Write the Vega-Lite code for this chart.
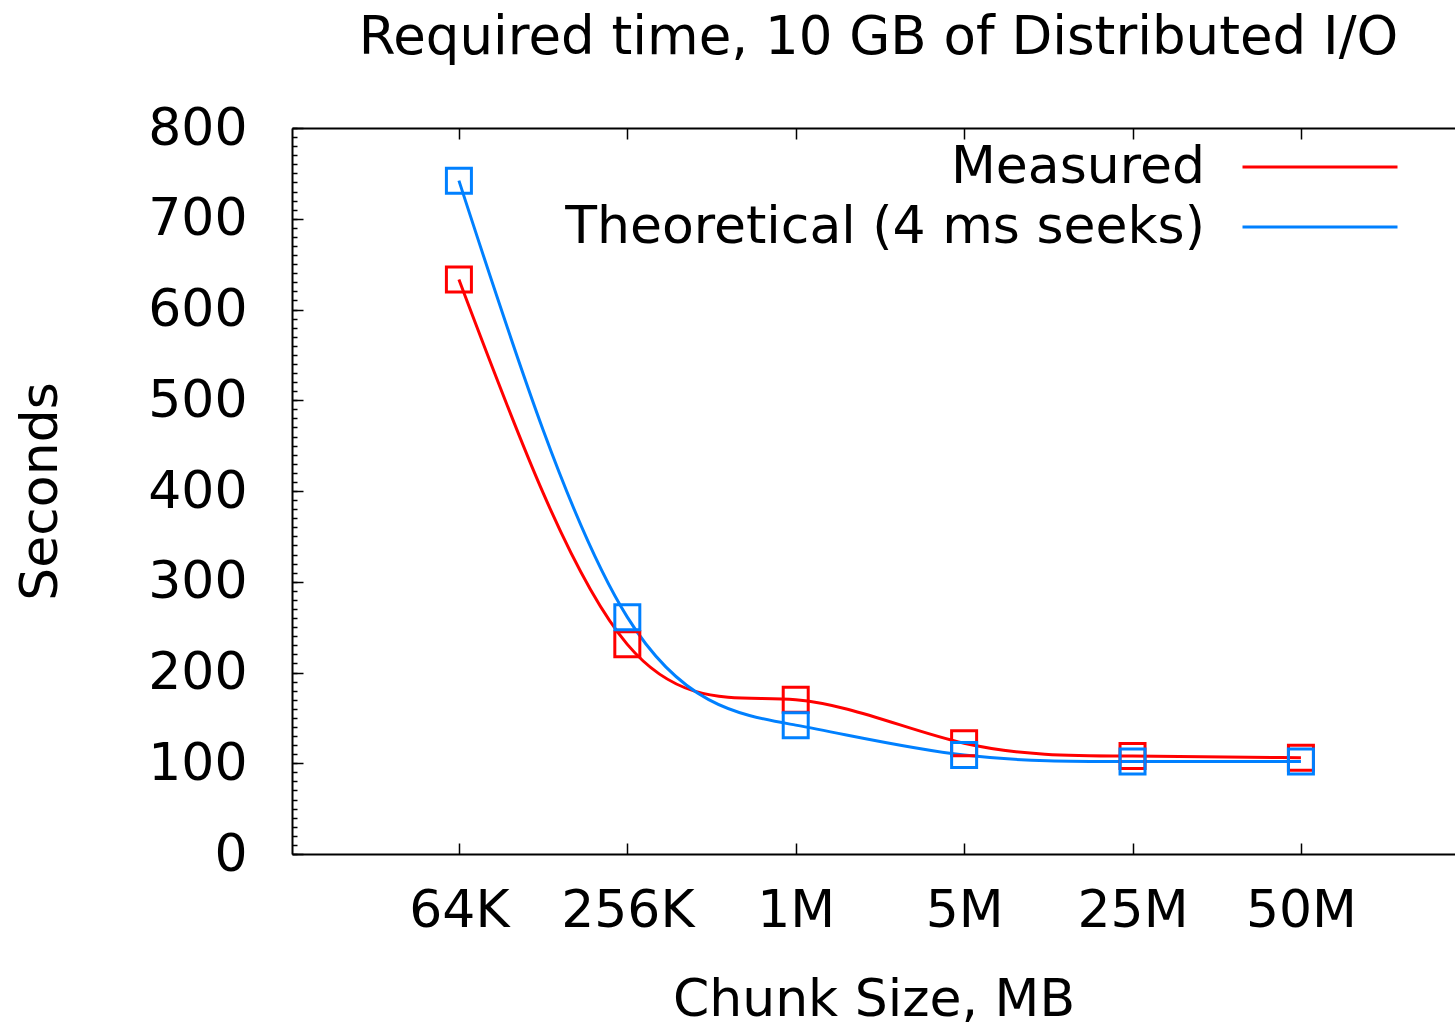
{
  "$schema": "https://vega.github.io/schema/vega-lite/v6.json",
  "autosize": {"type": "none"},
  "padding": {"left": 292, "top": 128, "right": 0, "bottom": 174},
  "width": 1163,
  "height": 726,
  "background": "white",
  "config": {
    "view": {"stroke": null},
    "font": "DejaVu Sans",
    "axis": {"labelFont": "DejaVu Sans", "titleFont": "DejaVu Sans", "labelColor": "black", "titleColor": "black", "titleFontWeight": "normal", "labelFontSize": 52, "titleFontSize": 52, "grid": false, "domainColor": "black", "domainWidth": 2, "tickColor": "black", "tickWidth": 1.5}
  },
  "title": {"text": "Required time, 10 GB of Distributed I/O", "font": "DejaVu Sans", "fontSize": 53, "fontWeight": "normal", "color": "black", "offset": 37, "anchor": "middle", "dx": 5},
  "data": {"values": [
    {"chunk": "64K", "series": "Measured", "seconds": 633},
    {"chunk": "256K", "series": "Measured", "seconds": 231},
    {"chunk": "1M", "series": "Measured", "seconds": 170},
    {"chunk": "5M", "series": "Measured", "seconds": 122},
    {"chunk": "25M", "series": "Measured", "seconds": 108},
    {"chunk": "50M", "series": "Measured", "seconds": 106},
    {"chunk": "64K", "series": "Theoretical (4 ms seeks)", "seconds": 742},
    {"chunk": "256K", "series": "Theoretical (4 ms seeks)", "seconds": 261},
    {"chunk": "1M", "series": "Theoretical (4 ms seeks)", "seconds": 142},
    {"chunk": "5M", "series": "Theoretical (4 ms seeks)", "seconds": 109},
    {"chunk": "25M", "series": "Theoretical (4 ms seeks)", "seconds": 102},
    {"chunk": "50M", "series": "Theoretical (4 ms seeks)", "seconds": 102}
  ]},
  "layer": [
    {
      "mark": {"type": "line", "interpolate": "natural", "strokeWidth": 3},
      "encoding": {
        "x": {"field": "chunk", "type": "nominal", "sort": ["64K", "256K", "1M", "5M", "25M", "50M"],
          "scale": {"type": "point", "padding": 0.953, "align": 0.52},
          "axis": {"orient": "bottom", "labelAngle": 0, "tickSize": -11, "labelPadding": 42, "title": "Chunk Size, MB", "titlePadding": 38}},
        "y": {"field": "seconds", "type": "quantitative",
          "scale": {"domain": [0, 800], "nice": false},
          "axis": {"orient": "left", "values": [0, 100, 200, 300, 400, 500, 600, 700, 800], "tickSize": -11, "labelPadding": 56, "title": "Seconds", "titlePadding": 80}},
        "color": {"field": "series", "type": "nominal",
          "scale": {"domain": ["Measured", "Theoretical (4 ms seeks)"], "range": ["#ff0000", "#0080ff"]},
          "legend": {"orient": "none", "legendX": 1002, "legendY": 13, "title": null, "symbolType": "M-5,0H5", "symbolSize": 961, "symbolStrokeWidth": 3, "symbolFillColor": "transparent", "labelFontSize": 52, "labelFont": "DejaVu Sans", "labelColor": "black", "labelAlign": "right", "labelOffset": -141, "rowPadding": 8, "labelLimit": 1000}}
      }
    },
    {
      "mark": {"type": "point", "shape": "square", "filled": false, "size": 625, "strokeWidth": 3, "opacity": 1},
      "encoding": {
        "x": {"field": "chunk", "type": "nominal", "sort": ["64K", "256K", "1M", "5M", "25M", "50M"],
          "axis": {"orient": "top", "labels": false, "tickSize": -11, "title": null}},
        "y": {"field": "seconds", "type": "quantitative",
          "axis": {"orient": "left", "values": [0,10,20,30,40,50,60,70,80,90,100,110,120,130,140,150,160,170,180,190,200,210,220,230,240,250,260,270,280,290,300,310,320,330,340,350,360,370,380,390,400,410,420,430,440,450,460,470,480,490,500,510,520,530,540,550,560,570,580,590,600,610,620,630,640,650,660,670,680,690,700,710,720,730,740,750,760,770,780,790,800], "labels": false, "tickSize": -5, "domain": false, "title": null}},
        "stroke": {"field": "series", "type": "nominal",
          "scale": {"domain": ["Measured", "Theoretical (4 ms seeks)"], "range": ["#ff0000", "#0080ff"]},
          "legend": null}
      }
    }
  ],
  "resolve": {"axis": {"x": "independent", "y": "independent"}}
}
